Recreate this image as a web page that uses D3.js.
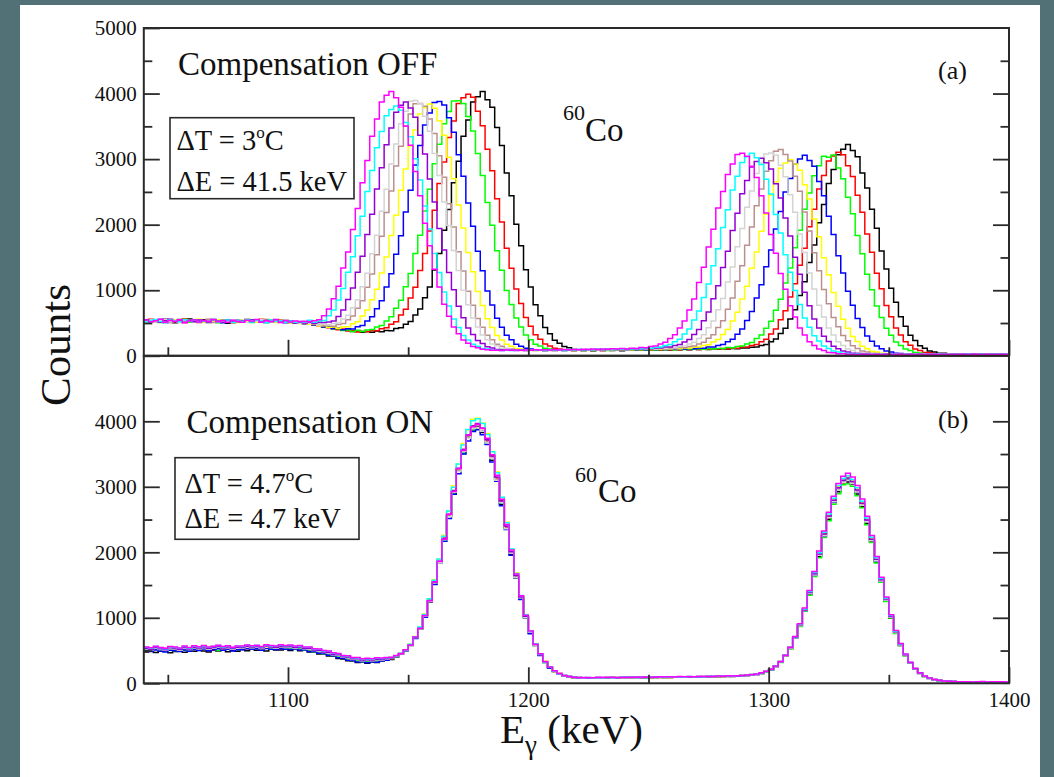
<!DOCTYPE html>
<html>
<head>
<meta charset="utf-8">
<script src="https://cdn.jsdelivr.net/npm/d3@7"></script>
<style>
html, body { margin: 0; padding: 0; background: #527176; }
svg { display: block; }
</style>
</head>
<body>
<svg id="chart" width="1054" height="777"></svg>
<script>
// 60Co spectra, 2 keV bins starting at 1040 keV
const binStart = 1040;
const binWidth = 2;
const energyDomain = [1040, 1400];
const countDomain = [0, 5000];

const seriesColors = ["#000000", "#ff0000", "#00ff00", "#0000ff", "#ffff00", "#bc8f8f", "#d3d3d3", "#9400d3", "#00ffff", "#ff00ff"];

const xMajorTicks = [1100, 1200, 1300, 1400];
const xMinorTicks = [1050, 1150, 1250, 1350];
const yTopLabels = [0, 1000, 2000, 3000, 4000, 5000];
const yBottomLabels = [0, 1000, 2000, 3000, 4000];
const yMinorTicks = [500, 1500, 2500, 3500, 4500];

// Panel (a): compensation off
const offBlack = [548,521,537,512,556,529,503,541,526,560,517,534,549,508,531,522,545,498,536,527,511,552,530,519,540,507,533,525,546,514,522,503,514,491,502,470,474,441,446,412,418,388,394,369,381,358,372,360,377,366,385,382,415,426,481,522,623,714,884,1049,1310,1561,1915,2230,2640,2968,3350,3598,3870,3951,4031,3905,3790,3482,3209,2790,2441,2008,1680,1312,1050,778,609,431,338,236,193,140,124,97,94,81,86,76,83,79,88,80,84,78,89,83,90,86,92,85,93,88,95,90,96,91,99,94,101,95,103,98,106,100,108,104,111,107,119,118,131,136,157,174,215,258,340,421,561,704,920,1131,1425,1690,2030,2306,2628,2840,3068,3150,3222,3130,3035,2790,2560,2235,1945,1600,1325,1031,815,597,452,314,233,152,116,74,59,40,37,27,28,21,24,19,23,25,20,22,18,24,21,23];
const offRed = [535,558,519,540,527,549,512,532,563,520,541,509,528,552,516,538,524,547,505,533,526,544,515,537,559,521,530,511,542,528,507,523,498,511,484,489,458,461,427,431,398,409,379,386,364,375,366,386,381,412,426,480,519,622,709,880,1044,1301,1559,1905,2221,2630,2955,3330,3580,3850,3935,3990,3945,3731,3510,3152,2822,2395,2039,1640,1335,1018,797,586,450,321,251,180,149,114,104,88,87,78,84,79,86,82,88,81,87,83,90,85,91,84,92,87,93,88,95,89,97,92,98,93,101,96,104,97,106,101,109,104,112,107,119,117,133,135,158,172,214,254,331,410,548,686,895,1099,1380,1640,1967,2235,2545,2750,2972,3048,3105,3066,2900,2735,2450,2190,1858,1578,1260,1021,768,594,425,318,215,160,103,79,52,45,31,30,24,23,19,24,21,25,18,23,22,20,24,19,22,21];
const offGreen = [524,546,531,507,550,518,539,526,553,511,529,542,520,548,533,506,537,523,551,515,539,527,509,546,522,535,548,517,531,543,509,520,496,514,488,482,470,447,441,415,412,386,393,371,389,370,395,401,440,462,531,596,724,849,1055,1255,1560,1838,2210,2540,2928,3225,3540,3725,3885,3890,3848,3650,3430,3085,2752,2340,1990,1603,1305,996,781,575,440,316,246,178,149,114,104,88,87,79,85,80,87,81,86,79,89,84,82,90,85,88,83,92,87,94,89,96,90,97,92,99,94,101,96,104,99,107,101,110,104,113,112,125,124,142,149,180,204,262,318,422,527,695,862,1110,1340,1648,1915,2236,2485,2745,2900,3045,3030,3062,2865,2700,2420,2165,1835,1555,1242,1008,758,586,420,313,212,157,103,79,52,44,31,30,23,24,19,22,25,20,23,21,19,24,22,20,25,21,18,23];
const offBlue = [541,515,532,555,509,538,524,547,517,535,550,522,540,513,529,546,504,537,520,543,518,533,549,525,510,539,522,544,529,506,527,498,512,487,506,474,469,443,449,417,421,398,414,410,445,463,531,595,718,841,1048,1250,1549,1830,2195,2525,2910,3208,3520,3705,3862,3880,3825,3630,3410,3066,2738,2330,1975,1595,1298,990,776,571,437,314,245,178,147,115,103,89,86,78,85,80,87,82,89,83,86,91,84,90,86,93,88,95,89,94,90,97,92,99,94,101,96,103,98,106,100,109,103,112,107,120,117,134,135,157,171,213,251,329,408,540,676,882,1085,1360,1615,1935,2200,2500,2705,2925,3000,3060,2980,2890,2660,2440,2130,1852,1525,1262,983,771,569,430,301,223,148,109,72,58,40,36,27,28,21,24,20,23,19,25,22,18,24,21,20,23,22,19,25,21,24,18,22,20];
const offYellow = [519,543,528,551,510,536,547,522,505,540,531,556,514,537,525,549,518,534,543,509,547,521,538,512,533,555,526,508,541,530,503,519,492,508,481,487,458,462,436,440,419,441,445,489,520,608,699,855,1015,1262,1508,1836,2145,2525,2848,3200,3445,3690,3785,3840,3775,3585,3366,3030,2700,2302,1950,1576,1281,982,766,565,433,311,242,176,146,113,103,88,87,79,85,81,88,82,87,83,90,84,89,86,92,85,93,88,95,89,97,91,98,93,101,95,103,97,105,100,108,103,111,106,119,116,132,134,156,170,211,250,325,401,532,665,866,1062,1336,1585,1900,2160,2452,2655,2862,2940,2995,2925,2830,2610,2390,2088,1815,1494,1238,965,757,558,422,296,219,146,107,71,57,39,36,27,28,21,24,19,23,20,25,22,18,24,21,23,19,22,25,20,22,19,24,21,23,18,22,24];
const offBrown = [537,512,549,526,541,505,533,558,520,544,514,538,527,552,508,535,547,519,531,542,525,548,511,536,529,553,517,540,523,534,519,505,512,493,501,478,481,455,466,452,477,491,550,606,725,841,1045,1248,1543,1822,2186,2515,2895,3195,3500,3690,3845,3850,3805,3612,3390,3052,2722,2320,1966,1588,1292,985,772,569,435,313,244,177,147,113,103,88,87,79,85,80,87,83,88,82,89,84,86,91,85,92,88,94,89,95,91,97,93,99,94,101,96,104,99,107,101,110,105,113,112,126,124,143,150,181,207,266,322,430,536,710,880,1137,1372,1688,1965,2290,2545,2815,2975,3120,3145,3070,2970,2740,2510,2195,1905,1570,1298,1010,795,586,442,309,229,152,112,74,58,40,36,27,28,21,24,19,23,22,20,25,21,23,18,24,22,20,25,21,19,23,22,25,20,21,24,18,23,22];
const offGrey = [528,547,515,539,552,521,534,508,545,530,519,541,533,506,548,525,537,516,550,529,543,512,535,527,554,518,539,531,509,546,511,524,498,509,492,495,471,483,468,494,502,561,617,734,855,1052,1258,1555,1840,2206,2541,2925,3230,3538,3730,3884,3895,3845,3655,3426,3085,2750,2346,1987,1605,1301,998,779,576,438,317,245,179,148,115,103,89,86,80,85,81,88,83,87,82,90,85,89,86,93,87,94,90,96,91,97,93,99,95,101,97,104,99,107,102,110,105,114,113,126,124,142,150,181,205,265,320,426,531,702,875,1124,1356,1665,1940,2265,2515,2780,2940,3080,3095,3060,2905,2730,2455,2190,1858,1575,1262,1018,770,592,425,317,216,159,104,79,52,45,32,30,24,23,20,24,21,19,23,22,25,20,22,18,24,21,23,19,22,25,21,18,24,22,20,23,19,25,21,22];
const offViolet = [551,526,540,513,534,557,522,545,509,538,523,546,530,515,553,527,510,541,535,518,532,549,520,544,513,538,527,552,516,535,520,506,515,499,517,496,511,507,515,530,600,700,860,1036,1275,1518,1850,2160,2544,2868,3220,3475,3715,3820,3870,3780,3640,3365,3080,2696,2345,1942,1612,1270,1006,757,582,424,325,233,186,139,120,98,93,83,84,80,87,82,89,84,88,83,90,86,92,87,94,89,95,90,97,92,99,94,101,96,103,98,105,100,108,104,112,106,119,118,133,134,156,171,212,250,326,403,535,668,872,1070,1345,1594,1912,2175,2470,2672,2880,2962,3015,2945,2850,2625,2408,2100,1828,1505,1245,971,762,563,425,298,220,147,108,72,57,39,36,27,28,21,24,20,23,19,25,22,18,24,21,23,20,25,19,22,24,21,18,23,22,20,24,19,23,21,25,20,22,19];
const offCyan = [516,539,553,524,507,545,531,518,548,527,542,511,536,529,555,520,533,547,508,539,524,550,517,541,530,506,545,522,536,513,526,510,524,515,543,510,532,540,610,700,850,1025,1275,1510,1830,2130,2507,2825,3175,3420,3660,3755,3810,3745,3560,3340,3005,2680,2285,1936,1562,1272,975,760,561,430,309,241,176,146,113,103,88,86,79,86,81,88,83,89,84,87,92,85,91,87,93,88,96,90,95,91,98,94,100,96,102,98,105,100,108,103,111,106,120,117,132,135,157,172,213,253,331,410,545,683,890,1095,1375,1632,1958,2228,2530,2740,2950,3035,3090,3020,2918,2692,2468,2155,1873,1542,1276,995,781,577,434,305,224,150,110,73,58,40,36,27,28,21,24,19,23,22,20,25,21,18,24,22,20,23,21,25,19,22,24,20,23,18,22,25,20,21,24,19,23,22,20,24];
const offMagenta = [545,520,533,556,511,538,526,549,503,532,547,515,540,528,552,519,535,510,543,526,513,541,529,554,517,536,524,548,509,538,517,531,523,528,521,535,548,610,712,870,1060,1338,1585,1925,2245,2640,2980,3350,3612,3870,3975,4030,3935,3790,3505,3210,2810,2442,2022,1678,1320,1048,786,605,439,336,240,191,143,121,99,94,83,85,80,88,83,90,85,89,84,92,87,93,88,95,90,96,92,98,93,100,95,102,97,104,100,107,102,110,105,114,113,126,124,143,150,181,205,263,320,425,530,700,868,1118,1352,1660,1930,2255,2505,2765,2925,3070,3090,3045,2890,2720,2440,2180,1850,1566,1255,1015,765,590,424,316,215,158,104,79,52,45,31,30,24,23,19,22,25,21,23,18,24,22,20,25,19,23,21,24,20,22,25,19,23,21,24,20,23,19,22,25,20,24,21,22,18,23];

// Panel (b): compensation on
const onBlack = [478,497,470,489,502,466,484,493,475,499,488,511,495,479,506,492,514,483,501,490,517,498,523,505,512,494,520,507,509,526,501,518,497,503,476,478,447,446,415,412,378,372,343,341,318,324,306,322,318,339,355,362,401,443,512,578,703,830,1035,1241,1518,1855,2170,2560,2890,3255,3510,3760,3860,3925,3830,3690,3405,3120,2735,2378,1970,1610,1290,1002,765,576,428,318,236,181,141,115,98,89,82,78,81,80,84,79,82,86,81,84,83,88,84,86,90,85,88,92,87,90,91,95,92,97,94,99,96,101,98,104,102,108,105,112,114,124,126,140,150,178,205,262,320,424,530,698,870,1115,1355,1650,1935,2250,2505,2765,2925,3060,3075,3040,2890,2695,2440,2155,1850,1545,1252,995,765,577,423,305,216,151,104,74,53,41,33,28,25,22,20,23,21,19,24,22,20,23,21,19];
const onRed = [516,498,524,507,531,503,519,495,527,512,533,514,540,521,508,536,519,544,527,511,547,526,539,552,530,544,521,538,548,535,545,527,536,514,512,489,486,458,452,424,417,386,381,354,352,335,341,333,350,344,372,380,418,446,513,581,706,836,1040,1256,1550,1852,2215,2565,2930,3268,3570,3775,3930,3945,3890,3705,3470,3135,2786,2385,2010,1632,1318,1015,790,582,446,322,248,181,148,115,104,88,87,80,84,79,86,82,87,83,88,84,89,85,90,86,91,87,93,89,94,90,96,92,97,94,99,95,101,98,104,100,108,104,111,107,119,118,131,135,157,173,214,255,331,414,545,690,890,1104,1378,1648,1962,2245,2540,2760,2962,3060,3110,3045,2930,2715,2475,2172,1880,1560,1278,1005,782,582,436,308,223,156,110,77,57,41,35,28,27,21,23,20,24,22,19,25,21,23,20,22];
const onGreen = [512,494,519,503,488,515,498,522,507,491,528,509,534,515,523,502,531,518,536,511,524,541,519,537,528,545,522,533,540,529,538,524,529,508,507,483,480,453,448,419,410,381,376,349,348,329,336,328,345,340,366,392,405,456,498,590,688,846,1018,1260,1522,1850,2175,2556,2898,3250,3515,3752,3868,3900,3850,3665,3432,3098,2755,2358,1990,1615,1305,1004,780,577,441,318,246,180,147,116,103,89,84,82,79,85,81,86,80,85,83,87,84,89,85,90,86,91,88,93,89,95,92,96,93,98,95,100,97,102,99,105,103,109,106,113,114,123,125,141,149,177,204,260,318,420,528,690,866,1100,1345,1632,1915,2225,2480,2735,2895,3030,3045,3010,2865,2682,2422,2150,1835,1543,1248,998,759,579,420,309,215,153,103,77,53,43,32,29,24,23,21,24,19,22,23,20,25,21,19,22];
const onBlue = [501,487,508,492,479,503,496,485,510,490,517,502,523,498,512,526,505,519,495,514,512,531,518,527,506,533,521,515,532,520,517,526,508,511,487,485,459,455,427,420,389,382,353,350,327,331,314,330,322,340,352,381,405,451,497,586,685,838,1010,1248,1508,1832,2170,2515,2885,3200,3500,3700,3845,3872,3795,3645,3380,3085,2710,2350,1955,1611,1280,1006,758,580,426,322,235,183,140,117,99,90,81,84,78,82,85,80,83,87,82,85,88,84,89,86,90,87,92,88,94,91,94,92,97,93,99,96,101,97,103,101,106,103,110,108,117,119,129,136,155,174,212,256,329,416,543,693,886,1110,1372,1652,1960,2248,2535,2765,2958,3068,3102,3050,2920,2720,2470,2180,1872,1565,1272,1012,778,589,433,313,222,157,108,78,56,43,35,29,26,21,22,19,24,21,23,20,22,25,19,23];
const onYellow = [541,528,553,534,520,547,537,525,556,531,559,542,548,563,537,555,544,566,540,552,567,551,574,558,563,549,571,556,572,561,570,553,561,541,537,514,511,484,479,449,441,410,406,378,379,360,366,359,374,369,378,392,409,458,506,601,713,852,1057,1281,1585,1892,2262,2625,3015,3345,3660,3870,4030,4045,3975,3815,3540,3230,2835,2460,2045,1688,1338,1052,795,607,444,336,244,191,143,121,100,93,86,83,81,86,80,85,88,82,87,84,90,85,89,87,92,86,93,90,95,89,95,92,98,94,100,96,102,99,105,101,109,104,112,107,121,118,133,138,159,176,213,259,333,420,550,700,899,1124,1395,1680,1988,2290,2565,2815,3005,3120,3150,3095,2972,2760,2512,2208,1905,1590,1290,1028,792,592,441,314,226,153,112,76,58,41,36,28,27,22,24,21,19,23,22,25,20,22,24,21];
const onBrown = [531,517,540,522,509,536,528,514,543,520,547,533,551,529,542,556,535,548,526,544,543,561,549,556,538,564,551,545,562,553,558,545,551,531,529,504,500,474,469,440,430,401,395,369,368,350,356,349,364,360,373,383,417,446,511,582,700,835,1031,1252,1540,1845,2198,2555,2925,3255,3545,3760,3895,3935,3852,3695,3440,3118,2765,2372,1995,1625,1309,1010,782,585,440,320,247,182,148,116,104,89,88,82,85,80,87,83,86,89,83,88,85,90,86,91,88,93,87,94,90,95,91,97,94,99,95,101,98,103,100,106,104,110,106,113,115,124,127,142,151,180,208,264,323,424,538,702,884,1122,1371,1668,1960,2272,2540,2790,2965,3090,3125,3060,2945,2730,2490,2185,1880,1578,1275,1020,778,594,431,316,219,158,106,79,54,44,33,30,25,23,20,22,25,19,23,21,24,20,22,18];
const onGrey = [526,511,534,517,503,529,522,508,537,515,541,527,546,524,538,551,530,543,519,536,538,556,542,551,533,559,546,540,557,548,553,539,546,526,524,499,495,469,464,435,425,396,390,364,363,345,351,344,359,355,368,380,419,444,509,579,698,833,1029,1247,1535,1838,2190,2542,2915,3235,3538,3740,3890,3905,3848,3668,3432,3100,2755,2360,1990,1615,1305,1005,779,578,440,318,245,180,147,116,103,88,86,81,83,86,80,84,87,82,88,85,87,84,90,86,91,88,92,89,94,91,95,91,97,95,98,96,102,99,104,102,107,105,109,111,118,120,130,137,156,175,210,259,327,419,540,695,884,1112,1370,1655,1955,2252,2530,2770,2950,3065,3100,3050,2920,2718,2468,2180,1870,1562,1272,1010,777,586,432,311,221,155,108,76,56,42,34,29,26,22,21,24,20,22,19,23,25,21,20,22];
const onViolet = [537,521,545,528,514,541,533,519,548,525,552,538,556,534,547,561,540,553,531,549,548,566,554,561,543,569,556,550,567,558,563,550,556,536,534,509,505,479,474,445,435,406,400,374,373,355,361,354,369,365,375,385,420,452,512,590,702,846,1037,1268,1548,1862,2212,2580,2945,3285,3570,3795,3930,3965,3895,3720,3470,3150,2785,2400,2010,1645,1318,1025,789,592,441,327,244,187,145,119,102,92,85,88,82,86,83,88,84,89,86,87,91,87,92,89,93,90,95,92,96,93,97,95,99,96,101,98,103,101,105,103,108,107,112,109,120,121,132,139,158,179,211,262,330,424,545,702,893,1120,1385,1672,1975,2278,2555,2796,2985,3100,3135,3082,2952,2748,2495,2200,1892,1580,1287,1021,786,594,437,315,224,157,110,78,57,43,35,30,26,23,22,20,23,21,24,19,22,23,20,24];
const onCyan = [551,537,560,543,529,556,548,534,563,540,567,553,571,549,562,576,555,568,546,564,563,581,569,576,558,584,571,565,582,573,578,565,571,551,549,524,520,494,489,460,450,421,415,389,388,370,376,369,384,380,389,395,422,458,512,596,710,858,1050,1290,1575,1898,2245,2630,2995,3350,3640,3875,4010,4040,3965,3800,3535,3215,2840,2450,2050,1678,1342,1045,796,603,449,329,248,188,146,120,103,91,88,84,87,82,89,85,90,86,88,91,87,92,89,94,90,95,92,97,93,98,95,100,97,102,99,104,101,106,103,108,106,112,109,115,119,125,133,141,160,181,212,263,333,427,549,709,900,1135,1400,1690,1995,2305,2585,2825,3020,3125,3170,3110,2985,2780,2525,2230,1915,1600,1303,1035,796,601,442,319,226,160,110,79,57,44,35,30,27,23,21,24,22,25,20,23,21,24,22,19];
const onMagenta = [556,542,565,548,534,561,553,539,568,545,572,558,576,554,567,581,560,573,551,569,568,586,574,581,563,589,576,570,587,578,583,570,576,556,554,529,525,499,494,465,455,426,420,394,393,375,381,374,389,385,392,396,425,455,514,585,705,842,1036,1260,1548,1862,2200,2580,2930,3280,3555,3790,3915,3955,3895,3740,3490,3175,2810,2425,2035,1668,1335,1040,800,598,450,332,250,190,148,121,104,93,90,86,89,84,91,87,92,88,90,93,89,94,91,96,92,97,94,99,95,100,97,102,99,104,101,106,103,108,105,110,108,114,111,117,120,127,134,143,162,183,214,265,334,430,552,715,910,1148,1415,1705,2018,2325,2610,2855,3050,3160,3205,3150,3020,2815,2550,2255,1935,1618,1318,1045,805,608,447,323,230,162,113,80,59,45,36,31,27,24,22,25,21,23,26,20,24,22,25,21];

const offSeries = [offBlack, offRed, offGreen, offBlue, offYellow, offBrown, offGrey, offViolet, offCyan, offMagenta];
const onSeries = [onBlack, onRed, onGreen, onBlue, onYellow, onBrown, onGrey, onViolet, onCyan, onMagenta];

// ---------- layout ----------
const svg = d3.select("#chart");
const serif = "'Liberation Serif', 'Times New Roman', serif";
const plot = { left: 143.8, right: 1009, top: 28, mid: 355.8, bottom: 683.3 };

svg.append("rect").attr("x", 20).attr("y", 5).attr("width", 1020).attr("height", 772).attr("fill", "#ffffff");

const x = d3.scaleLinear().domain(energyDomain).range([plot.left, plot.right]);
const yTop = d3.scaleLinear().domain(countDomain).range([plot.mid, plot.top]);
const yBottom = d3.scaleLinear().domain(countDomain).range([plot.bottom, plot.mid]);

const binEdges = d3.range(offBlack.length + 1).map(i => binStart + i * binWidth);

function styleAxis(g, fontSize) {
  g.select(".domain").remove();
  g.attr("color", "#2a2a2a")
   .attr("font-family", serif)
   .attr("font-size", fontSize);
  g.selectAll("line").attr("stroke-width", 1.8);
  g.selectAll("text").attr("fill", "#111");
}

function drawPanel(y, seriesList, y0, y1, id, yLabels, showXLabels) {
  svg.append("clipPath").attr("id", id)
    .append("rect")
    .attr("x", plot.left).attr("y", y1)
    .attr("width", plot.right - plot.left).attr("height", y0 - y1);

  const line = d3.line()
    .x(d => x(d[0]))
    .y(d => y(d[1]))
    .curve(d3.curveStepAfter);

  const g = svg.append("g").attr("clip-path", `url(#${id})`);
  seriesList.forEach((vals, k) => {
    const pts = binEdges.map((e, i) => [e, vals[Math.min(i, vals.length - 1)]]);
    g.append("path")
      .attr("d", line(pts))
      .attr("fill", "none")
      .attr("stroke", seriesColors[k])
      .attr("stroke-width", 1.5)
      .attr("stroke-linejoin", "miter");
  });

  // left axis: labelled major ticks and minor ticks, pointing inward
  svg.append("g").attr("transform", `translate(${plot.left},0)`)
    .call(d3.axisLeft(y).tickValues(yLabels).tickSize(-16).tickPadding(7).tickFormat(d3.format("d")))
    .call(g => styleAxis(g, 21));
  svg.append("g").attr("transform", `translate(${plot.left},0)`)
    .call(d3.axisLeft(y).tickValues(yMinorTicks).tickSize(-8.5).tickFormat(""))
    .call(g => styleAxis(g, 21));

  // right axis ticks
  svg.append("g").attr("transform", `translate(${plot.right},0)`)
    .call(d3.axisRight(y).tickValues(yLabels.filter(v => v > 0 && v < 5000)).tickSize(-16).tickFormat(""))
    .call(g => styleAxis(g, 21));
  svg.append("g").attr("transform", `translate(${plot.right},0)`)
    .call(d3.axisRight(y).tickValues(yMinorTicks).tickSize(-8.5).tickFormat(""))
    .call(g => styleAxis(g, 21));

  // bottom axis ticks pointing up
  svg.append("g").attr("transform", `translate(0,${y0})`)
    .call(d3.axisBottom(x).tickValues(xMajorTicks).tickSize(-16).tickPadding(8.5)
      .tickFormat(showXLabels ? d3.format("d") : ""))
    .call(g => styleAxis(g, 21));
  svg.append("g").attr("transform", `translate(0,${y0})`)
    .call(d3.axisBottom(x).tickValues(xMinorTicks).tickSize(-8.5).tickFormat(""))
    .call(g => styleAxis(g, 21));

  // frame
  svg.append("rect")
    .attr("x", plot.left).attr("y", y1)
    .attr("width", plot.right - plot.left).attr("height", y0 - y1)
    .attr("fill", "none").attr("stroke", "#2a2a2a").attr("stroke-width", 2);
}

drawPanel(yTop, offSeries, plot.mid, plot.top, "clip-a", yTopLabels, false);
drawPanel(yBottom, onSeries, plot.bottom, plot.mid, "clip-b", yBottomLabels, true);

// ---------- annotations ----------
function label(xp, yp, txt, size, anchor) {
  return svg.append("text").attr("x", xp).attr("y", yp)
    .attr("font-family", serif).attr("font-size", size)
    .attr("fill", "#111").attr("text-anchor", anchor || "start").text(txt);
}

label(178, 75, "Compensation OFF", 33);
label(186.5, 432.5, "Compensation ON", 33);
label(938, 79, "(a)", 26);
label(938, 428, "(b)", 26);

function isotope(xs, xc, ys, yc) {
  label(xs, ys, "60", 22);
  label(xc, yc, "Co", 33);
}
isotope(563, 585, 120, 140.5);
isotope(575, 598, 481.5, 501.5);

function infoBox(bx, by, bw, bh, tx, ty1, ty2, tempText, energyText) {
  svg.append("rect").attr("x", bx).attr("y", by).attr("width", bw).attr("height", bh)
    .attr("fill", "#fff").attr("stroke", "#2a2a2a").attr("stroke-width", 1.6);
  const t = svg.append("text").attr("x", tx).attr("y", ty1)
    .attr("font-family", serif).attr("font-size", 28.5).attr("fill", "#111");
  t.append("tspan").text("\u0394T = " + tempText);
  t.append("tspan").attr("font-size", 17).attr("dy", -12).text("o");
  t.append("tspan").attr("dy", 12).text("C");
  label(tx, ty2, "\u0394E = " + energyText, 28.5);
}
infoBox(170, 117.7, 184, 81, 176.5, 150, 191, "3", "41.5 keV");
infoBox(175, 457.7, 184, 81.6, 184.5, 493.3, 528.3, "4.7", "4.7 keV");

// axis titles
svg.append("text")
  .attr("transform", "translate(70,345) rotate(-90)")
  .attr("text-anchor", "middle")
  .attr("font-family", serif).attr("font-size", 43).attr("fill", "#111")
  .text("Counts");

const xt = svg.append("text").attr("x", 500).attr("y", 743)
  .attr("font-family", serif).attr("font-size", 41).attr("fill", "#111");
xt.append("tspan").text("E");
xt.append("tspan").attr("font-size", 27).attr("dy", 11).text("\u03b3");
xt.append("tspan").attr("dy", -11).text(" (keV)");
</script>
</body>
</html>
